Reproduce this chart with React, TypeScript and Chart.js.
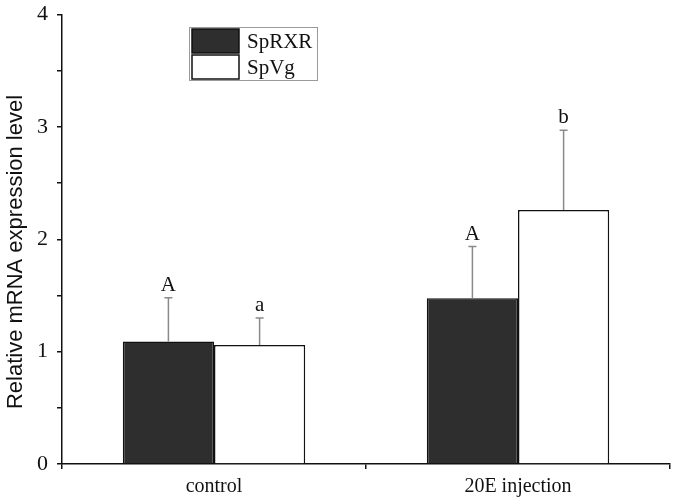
import React, { useEffect, useRef } from 'react';
import { Chart, registerables } from 'chart.js';

Chart.register(...registerables);

const categories = ['control', '20E injection'];
const seriesNames = ['SpRXR', 'SpVg'];
const spRXR = [1.09, 1.475];
const spVg = [1.06, 2.26];
const spRXRErr = [0.39, 0.46];
const spVgErr = [0.24, 0.71];
const spRXRLetters = ['A', 'A'];
const spVgLetters = ['a', 'b'];
const yTicks = [0, 1, 2, 3, 4];

const SERIF = '"Liberation Serif", "DejaVu Serif", serif';
const SANS = '"Liberation Sans", Arial, sans-serif';

const errors = [spRXRErr, spVgErr];
const letters = [spRXRLetters, spVgLetters];

const overlayPlugin = {
  id: 'overlay',
  afterDatasetsDraw(chart: any) {
    const ctx = chart.ctx;
    const yScale = chart.scales.y;
    chart.data.datasets.forEach((ds: any, di: number) => {
      const meta = chart.getDatasetMeta(di);
      meta.data.forEach((bar: any, i: number) => {
        const v = ds.data[i];
        const topY = yScale.getPixelForValue(v + errors[di][i]);
        const x = bar.x;
        ctx.save();
        ctx.strokeStyle = '#8a8a8a';
        ctx.lineWidth = 1.5;
        ctx.beginPath();
        ctx.moveTo(x, bar.y);
        ctx.lineTo(x, topY);
        ctx.moveTo(x - 4, topY);
        ctx.lineTo(x + 4, topY);
        ctx.stroke();
        ctx.fillStyle = '#111';
        ctx.font = `21px ${SERIF}`;
        ctx.textAlign = 'center';
        ctx.textBaseline = 'alphabetic';
        ctx.fillText(letters[di][i], x, topY - 7);
        ctx.restore();
      });
    });
  },
  afterDraw(chart: any) {
    const ctx = chart.ctx;
    ctx.save();
    // legend
    const lx = 189, ly = 27, lw = 128, lh = 53;
    ctx.strokeStyle = '#9a9a9a';
    ctx.lineWidth = 1;
    ctx.strokeRect(lx + 0.5, ly + 0.5, lw, lh);
    const colors = ['#2e2e2e', '#ffffff'];
    seriesNames.forEach((name, i) => {
      const sy = ly + 2 + i * 26;
      ctx.fillStyle = colors[i];
      ctx.fillRect(lx + 3, sy, 47, 24);
      ctx.strokeStyle = '#111';
      ctx.lineWidth = 1.5;
      ctx.strokeRect(lx + 3, sy, 47, 24);
      ctx.fillStyle = '#111';
      ctx.font = `21px ${SERIF}`;
      ctx.textAlign = 'left';
      ctx.textBaseline = 'middle';
      ctx.fillText(name, lx + 58, sy + 13);
    });
    // y title
    ctx.translate(16, 252);
    ctx.rotate(-Math.PI / 2);
    ctx.fillStyle = '#111';
    ctx.font = `22px ${SANS}`;
    ctx.textAlign = 'center';
    ctx.textBaseline = 'middle';
    ctx.fillText('Relative mRNA expression level', 0, 0);
    ctx.restore();
  },
};

export default function App() {
  const ref = useRef<HTMLCanvasElement>(null);
  useEffect(() => {
    document.body.style.margin = '0';
    const chart = new Chart(ref.current as HTMLCanvasElement, {
      type: 'bar',
      data: {
        labels: categories,
        datasets: [
          {
            label: seriesNames[0],
            data: spRXR,
            backgroundColor: '#2e2e2e',
            borderColor: '#111',
            borderWidth: 1.5,
            barPercentage: 1,
            categoryPercentage: 0.6,
          },
          {
            label: seriesNames[1],
            data: spVg,
            backgroundColor: '#ffffff',
            borderColor: '#111',
            borderWidth: 1.5,
            barPercentage: 1,
            categoryPercentage: 0.6,
          },
        ],
      },
      options: {
        responsive: false,
        animation: false,
        layout: { padding: { top: 10, right: 5, left: 0, bottom: 0 } },
        plugins: { legend: { display: false }, tooltip: { enabled: false } },
        scales: {
          x: {
            afterFit(scale: any) {
              scale.height = 35;
            },
            grid: {
              display: true,
              drawOnChartArea: false,
              drawTicks: true,
              offset: true,
              tickLength: 5,
              color: '#111',
              lineWidth: 1.5,
            },
            border: { display: true, color: '#111', width: 1.5 },
            ticks: {
              color: '#111',
              font: { family: SERIF, size: 20 },
              padding: 6,
            },
          },
          y: {
            min: 0,
            max: 4,
            afterFit(scale: any) {
              scale.width = 62;
            },
            afterBuildTicks(scale: any) {
              const t: any[] = [];
              for (let v = 0; v <= 8; v++) t.push({ value: v / 2 });
              scale.ticks = t;
            },
            grid: {
              display: true,
              drawOnChartArea: false,
              drawTicks: true,
              tickLength: 5,
              color: '#111',
              lineWidth: 1.5,
            },
            border: { display: true, color: '#111', width: 1.5 },
            ticks: {
              autoSkip: false,
              color: '#111',
              font: { family: SERIF, size: 22, lineHeight: 0.5 },
              padding: 9,
              callback: (v: any) => (yTicks.includes(Number(v)) ? String(v) : ''),
            },
          },
        },
      },
      plugins: [overlayPlugin],
    });
    return () => chart.destroy();
  }, []);
  return <canvas ref={ref} width={675} height={499} />;
}
